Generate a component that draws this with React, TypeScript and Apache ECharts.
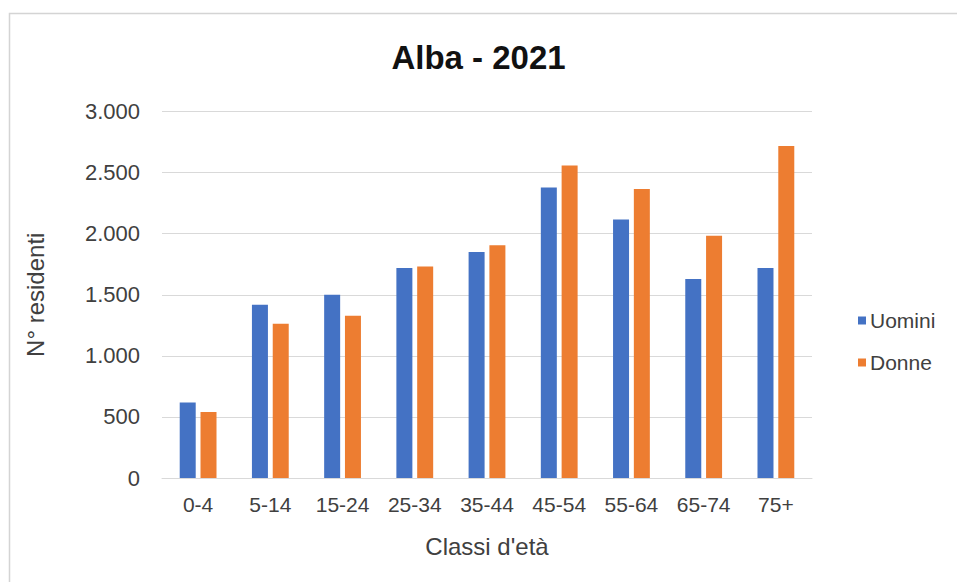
import React, { useEffect, useRef } from "react";
import * as echarts from "echarts";

const categories = ["0-4", "5-14", "15-24", "25-34", "35-44", "45-54", "55-64", "65-74", "75+"];
const uomini = [618, 1418, 1500, 1718, 1849, 2378, 2116, 1628, 1718];
const donne = [540, 1263, 1328, 1732, 1906, 2558, 2365, 1983, 2717];
const seriesNames = ["Uomini", "Donne"];
const titleText = "Alba - 2021";
const xName = "Classi d'età";
const yName = "N° residenti";

const fmt = (v: number) => String(v).replace(/\B(?=(\d{3})+(?!\d))/g, ".");

export default function App() {
  const ref = useRef<HTMLDivElement>(null);
  useEffect(() => {
    if (!ref.current) return;
    const chart = echarts.init(ref.current, undefined, { renderer: "svg" });
    const font = "'Liberation Sans', Arial, sans-serif";
    chart.setOption({
      animation: false,
      backgroundColor: "#ffffff",
      title: {
        text: titleText,
        left: "center",
        top: 36,
        textStyle: { fontFamily: font, fontSize: 33, fontWeight: "bold", color: "#111111" },
      },
      graphic: [
        {
          type: "rect",
          shape: { x: 9.5, y: 13.5, width: 1000, height: 700 },
          style: { fill: "none", stroke: "#d4d4d4", lineWidth: 1.5 },
          silent: true,
        },
      ],
      legend: {
        orient: "vertical",
        left: 853,
        top: 305,
        itemWidth: 8,
        itemHeight: 8,
        itemGap: 21,
        icon: "rect",
        data: seriesNames,
        textStyle: { fontFamily: font, fontSize: 21, color: "#404040", padding: [0, 0, 0, -1] },
      },
      grid: { left: 162, right: 145, top: 111.5, bottom: 104, containLabel: false },
      xAxis: {
        type: "category",
        data: categories,
        name: xName,
        nameLocation: "middle",
        nameGap: 56,
        nameTextStyle: { fontFamily: font, fontSize: 24, color: "#404040" },
        axisLine: { lineStyle: { color: "#d9d9d9", width: 1 } },
        axisTick: { show: false },
        axisLabel: { interval: 0, fontFamily: font, fontSize: 21, color: "#404040", margin: 16 },
      },
      yAxis: {
        type: "value",
        min: 0,
        max: 3000,
        interval: 500,
        name: yName,
        nameLocation: "middle",
        nameGap: 115,
        nameRotate: 90,
        nameTextStyle: { fontFamily: font, fontSize: 24, color: "#404040" },
        axisLine: { show: false },
        axisTick: { show: false },
        splitLine: { lineStyle: { color: "#d9d9d9", width: 1 } },
        axisLabel: { fontFamily: font, fontSize: 22, color: "#404040", margin: 22, formatter: fmt },
      },
      series: [
        {
          name: seriesNames[0],
          type: "bar",
          data: uomini,
          barWidth: 16,
          barGap: "30%",
          itemStyle: { color: "#4472C4" },
        },
        {
          name: seriesNames[1],
          type: "bar",
          data: donne,
          barWidth: 16,
          barGap: "30%",
          itemStyle: { color: "#ED7D31" },
        },
      ],
    });
    return () => chart.dispose();
  }, []);
  return (
    <div
      ref={ref}
      style={{ position: "fixed", left: 0, top: 0, width: 957, height: 582 }}
    />
  );
}
